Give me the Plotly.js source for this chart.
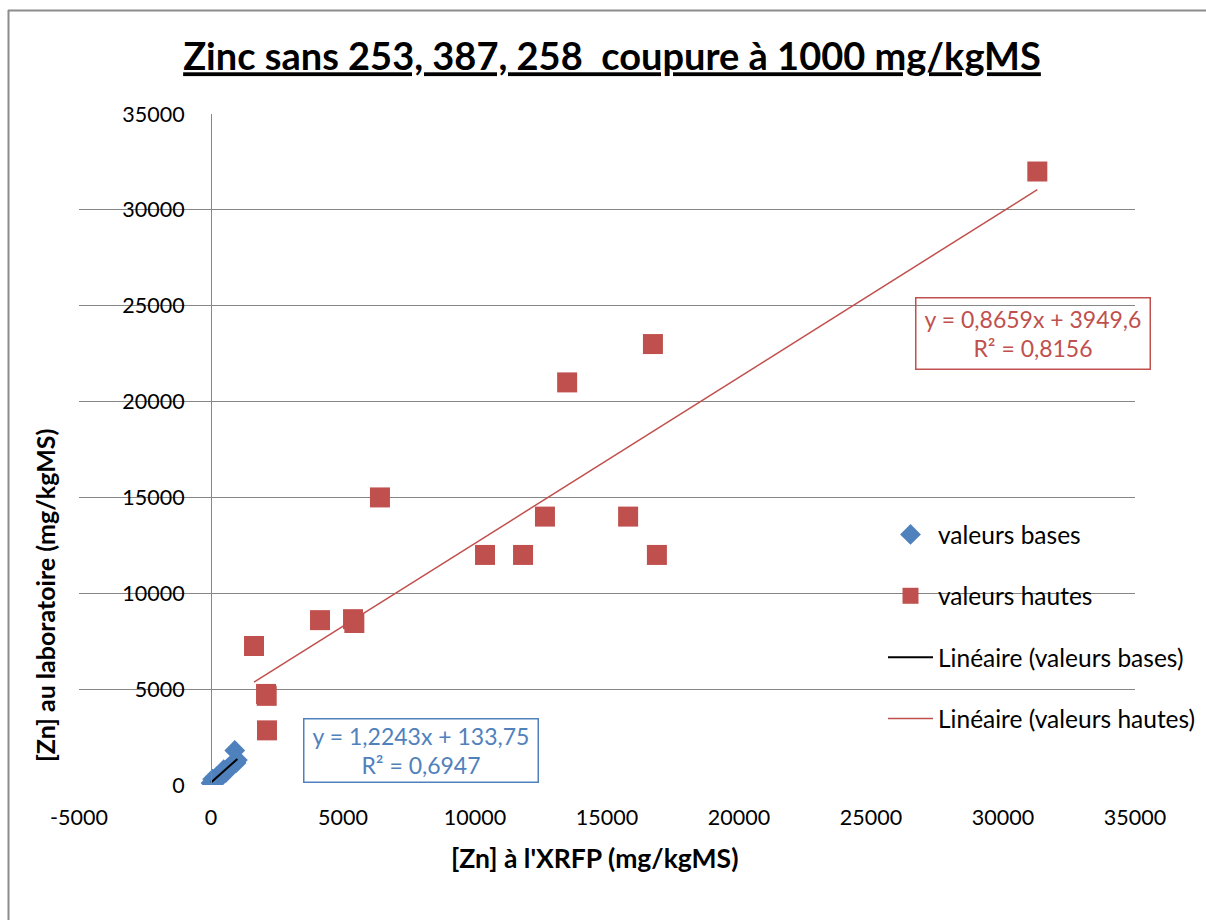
<!DOCTYPE html>
<html>
<head>
<meta charset="utf-8">
<script src="https://cdn.plot.ly/plotly-3.0.1.min.js"></script>
<style>html,body{margin:0;padding:0;background:#fff;overflow:hidden;}#chart{width:1206px;height:920px;}</style>
</head>
<body>
<div id="chart"></div>
<script>
// ---- data ----
const basesX = [0, 60, 150, 230, 320, 400, 480, 560, 650, 730, 820, 900, 950, 1000];
const basesY = [100, 300, 200, 450, 350, 600, 800, 650, 900, 1000, 1100, 1800, 1150, 1300];
const hautesX = [31300, 16740, 13490, 6400, 12650, 15800, 10380, 11820, 16890, 4130, 5380, 5430, 1630, 2085, 2110, 2120];
const hautesY = [32000, 23000, 21000, 15000, 14000, 14000, 12000, 12000, 12000, 8600, 8650, 8450, 7250, 4750, 4650, 2850];
const basesSlope = 1.2243, basesIntercept = 133.75, basesR2 = "0,6947";
const hautesSlope = 0.8659, hautesIntercept = 3949.6, hautesR2 = "0,8156";
const xTicks = [-5000, 0, 5000, 10000, 15000, 20000, 25000, 30000, 35000];
const xTickLabels = ["-5000", "0", "5000", "10000", "15000", "20000", "25000", "30000", "35000"];
const yTicks = [0, 5000, 10000, 15000, 20000, 25000, 30000, 35000];
const yTickLabels = ["0", "5000", "10000", "15000", "20000", "25000", "30000", "35000"];
const titleText = "Zinc sans 253, 387, 258 \u00a0coupure à 1000 mg/kgMS";
const xTitle = "[Zn] à l'XRFP (mg/kgMS)";
const yTitle = "[Zn] au laboratoire (mg/kgMS)";

// ---- styling ----
const FONT = "Lato, 'Open Sans', sans-serif";
const RED = "#C0504D", BLUE = "#4F81BD", GRID = "#868686";

function trend(xs, a, b) {
  const lo = Math.min(...xs), hi = Math.max(...xs);
  return {x: [lo, hi], y: [a * lo + b, a * hi + b]};
}
const tb = trend(basesX, basesSlope, basesIntercept);
const th = trend(hautesX, hautesSlope, hautesIntercept);

const traces = [
  {x: basesX, y: basesY, type: "scatter", mode: "markers", name: "valeurs bases", legendgroup: "a",
   marker: {symbol: "diamond", size: 16, color: BLUE}},
  {x: hautesX, y: hautesY, type: "scatter", mode: "markers", name: "valeurs hautes", legendgroup: "b",
   marker: {symbol: "square", size: 20, color: RED}},
  {x: tb.x, y: tb.y, type: "scatter", mode: "lines", name: "Linéaire (valeurs bases)", legendgroup: "c",
   line: {color: "#000000", width: 2}},
  {x: th.x, y: th.y, type: "scatter", mode: "lines", name: "Linéaire (valeurs hautes)", legendgroup: "d",
   line: {color: RED, width: 1.5}}
];

const L = 79, R = 71, T = 114, B = 135, W = 1206, H = 920;
const pw = W - L - R, ph = H - T - B;
const px = v => (v - L) / pw;           // pixel -> paper x
const py = v => (H - B - v) / ph;       // pixel -> paper y

const layout = {
  width: W, height: H,
  margin: {l: L, r: R, t: T, b: B, pad: 0, autoexpand: false},
  paper_bgcolor: "#ffffff", plot_bgcolor: "#ffffff",
  font: {family: FONT, size: 21, color: "#000"},
  title: {text: "<b><u>" + titleText + "</u></b>", font: {family: FONT, size: 38, color: "#000"},
          xref: "paper", x: px(612), xanchor: "center", yref: "container", y: 1 - 57 / H, yanchor: "middle"},
  showlegend: true,
  legend: {x: px(883), xanchor: "left", y: py(512), yanchor: "top", bgcolor: "rgba(0,0,0,0)",
           font: {family: FONT, size: 24.5, color: "#000"}, tracegroupgap: 26.5, itemwidth: 45},
  xaxis: {range: [-5000, 35000], showgrid: false, zeroline: false, showline: false,
          tickmode: "array", tickvals: xTicks, ticktext: xTickLabels, ticks: "",
          tickfont: {family: FONT, size: 21.5, color: "#000"}, ticklabelstandoff: 17, fixedrange: true},
  yaxis: {range: [0, 35000], anchor: "free", position: px(211), showline: true, linecolor: GRID, linewidth: 1,
          showgrid: true, gridcolor: GRID, gridwidth: 1, zeroline: false,
          tickmode: "array", tickvals: yTicks, ticktext: yTickLabels, ticks: "",
          tickfont: {family: FONT, size: 21.5, color: "#000"}, ticklabelstandoff: 22, fixedrange: true},
  annotations: [
    {xref: "paper", yref: "paper", x: px(594), y: py(858), text: "<b>" + xTitle + "</b>", showarrow: false,
     font: {family: FONT, size: 26.5, color: "#000"}, xanchor: "center", yanchor: "middle"},
    {xref: "paper", yref: "paper", x: px(45), y: py(596), text: "<b>" + yTitle + "</b>", showarrow: false,
     textangle: -90, font: {family: FONT, size: 25, color: "#000"}, xanchor: "center", yanchor: "middle"},
    {xref: "paper", yref: "paper", x: px(1033), y: py(333),
     text: "y = " + String(hautesSlope).replace(".", ",") + "x + " + String(hautesIntercept).replace(".", ",") + "<br>R² = " + hautesR2,
     showarrow: false, font: {family: FONT, size: 23, color: RED}, bordercolor: RED, borderwidth: 1.5,
     borderpad: 4, align: "center", width: 225, height: 62, xanchor: "center", yanchor: "middle"},
    {xref: "paper", yref: "paper", x: px(421), y: py(750),
     text: "y = " + String(basesSlope).replace(".", ",") + "x + " + String(basesIntercept).replace(".", ",") + "<br>R² = " + basesR2,
     showarrow: false, font: {family: FONT, size: 23, color: BLUE}, bordercolor: BLUE, borderwidth: 1.5,
     borderpad: 4, align: "center", width: 225, height: 54, bgcolor: "#ffffff", xanchor: "center", yanchor: "middle"}
  ],
  shapes: [
    {type: "line", xref: "paper", yref: "paper", x0: px(8.5), x1: px(8.5), y0: py(10), y1: py(925),
     line: {color: "#8c8c8c", width: 2}, layer: "below"},
    {type: "line", xref: "paper", yref: "paper", x0: px(8), x1: px(1210), y0: py(10.5), y1: py(10.5),
     line: {color: "#8c8c8c", width: 2}, layer: "below"}
  ]
};

Plotly.newPlot("chart", traces, layout, {displayModeBar: false, staticPlot: true});
</script>
</body>
</html>
